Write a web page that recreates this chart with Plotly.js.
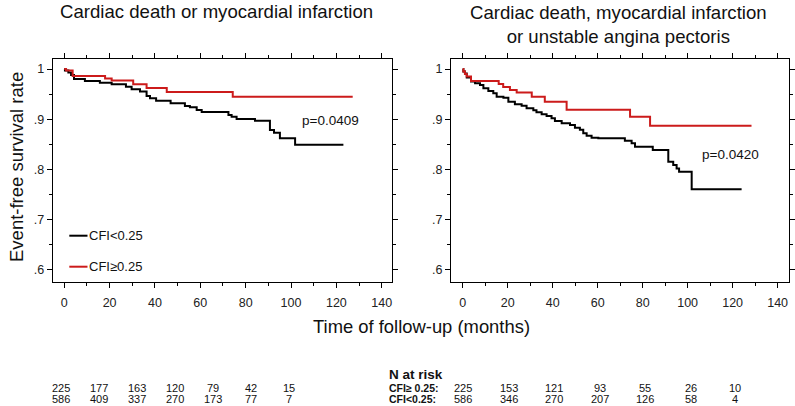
<!DOCTYPE html>
<html>
<head>
<meta charset="utf-8">
<script src="https://cdn.plot.ly/plotly-3.0.1.min.js"></script>
<style>
  html, body { margin: 0; padding: 0; background: #fff; }
  #chart { width: 795px; height: 406px; }
</style>
</head>
<body>
<div id="chart"></div>
<script>
// ---------------- data ----------------
const leftTitle = "Cardiac death or myocardial infarction";
const rightTitle = "Cardiac death, myocardial infarction<br>or unstable angina pectoris";
const groupLow = "CFI<0.25";
const groupHigh = "CFI\u22650.25";

// Left panel: cardiac death or MI
const leftLowT = [0, 0.3, 1.8, 3.0, 4.3, 9.1, 15.7, 20.9, 27.2, 29.7, 33.4, 36.3, 37.8, 40.5, 46.9, 53.2, 55.4, 58.4, 60.6, 72.4, 73.8, 76.0, 84.1, 90.7, 92.5, 95.1, 101.8, 123.1];
const leftLowS = [1.0, 0.997, 0.993, 0.988, 0.980, 0.976, 0.9728, 0.9695, 0.9648, 0.9595, 0.955, 0.9463, 0.9416, 0.937, 0.9317, 0.9264, 0.9237, 0.9184, 0.9144, 0.9085, 0.905, 0.9005, 0.897, 0.8786, 0.873, 0.862, 0.849, 0.849];
const leftHighT = [0, 0.8, 3.7, 18.0, 20.9, 30.4, 36.3, 45.2, 74.3, 127.2];
const leftHighS = [1.0, 0.997, 0.986, 0.981, 0.977, 0.9695, 0.962, 0.954, 0.945, 0.945];

// Right panel: cardiac death, MI or unstable angina
const rightLowT = [0, 0.3, 1.0, 1.8, 3.7, 5.5, 7.7, 9.2, 11.4, 13.6, 15.1, 18.1, 20.3, 23.2, 26.2, 28.4, 31.4, 32.8, 35.1, 37.3, 39.5, 41.0, 44.0, 47.7, 49.9, 52.1, 53.6, 55.1, 57.3, 60.3, 72.1, 75.1, 76.6, 84.5, 91.4, 93.6, 95.1, 96.2, 101.8, 124.0];
const rightLowS = [1.0, 0.995, 0.991, 0.983, 0.975, 0.9715, 0.968, 0.9615, 0.956, 0.9516, 0.945, 0.943, 0.935, 0.930, 0.927, 0.922, 0.918, 0.914, 0.910, 0.9065, 0.902, 0.8965, 0.892, 0.8886, 0.883, 0.879, 0.872, 0.867, 0.8633, 0.862, 0.857, 0.852, 0.8454, 0.839, 0.8155, 0.809, 0.802, 0.7956, 0.7606, 0.7606];
const rightHighT = [0, 0.3, 1.0, 1.8, 3.7, 16.0, 18.0, 21.0, 24.0, 30.7, 36.5, 46.2, 74.4, 83.3, 128.4];
const rightHighS = [1.0, 0.995, 0.990, 0.985, 0.976, 0.970, 0.964, 0.958, 0.953, 0.945, 0.935, 0.919, 0.905, 0.887, 0.887];

const pLeft = "p=0.0409";
const pRight = "p=0.0420";

// Number at risk
const riskHeader = "N at risk";
const riskLabelHigh = "CFI\u2265 0.25:";
const riskLabelLow = "CFI<0.25:";
const riskHighLeft = [225, 177, 163, 120, 79, 42, 15];
const riskLowLeft = [586, 409, 337, 270, 173, 77, 7];
const riskHighRight = [225, 153, 121, 93, 55, 26, 10];
const riskLowRight = [586, 346, 270, 207, 126, 58, 4];

const yTickVals = [0.6, 0.7, 0.8, 0.9, 1.0];
const yTickText = [".6", ".7", ".8", ".9", "1"];
const xTickVals = [0, 20, 40, 60, 80, 100, 120, 140];

// ---------------- layout helpers ----------------
const W = 795, H = 406;
const px = x => x / W;
const py = y => 1 - y / H;
const FONT = "Liberation Sans, Arial, Helvetica, sans-serif";
const BLACK = "#000000";
const RED = "#cc1b1b";

const traces = [
  {x: leftLowT, y: leftLowS, xaxis: "x", yaxis: "y", mode: "lines", line: {shape: "hv", color: BLACK, width: 2}, hoverinfo: "skip"},
  {x: leftHighT, y: leftHighS, xaxis: "x", yaxis: "y", mode: "lines", line: {shape: "hv", color: RED, width: 2}, hoverinfo: "skip"},
  {x: rightLowT, y: rightLowS, xaxis: "x2", yaxis: "y2", mode: "lines", line: {shape: "hv", color: BLACK, width: 2}, hoverinfo: "skip"},
  {x: rightHighT, y: rightHighS, xaxis: "x2", yaxis: "y2", mode: "lines", line: {shape: "hv", color: RED, width: 2}, hoverinfo: "skip"}
];

const xCommon = {
  tickvals: xTickVals, ticks: "outside", ticklen: 5, tickwidth: 1, tickcolor: BLACK,
  showline: true, linecolor: BLACK, linewidth: 1, mirror: "ticks",
  showgrid: false, zeroline: false, ticklabelstandoff: 4,
  tickfont: {family: FONT, size: 12.5, color: "#222"},
  minor: {tick0: 0, dtick: 10, ticks: "outside", ticklen: 3, tickcolor: BLACK, showgrid: false},
  fixedrange: true
};
const yCommon = {
  tickvals: yTickVals, ticktext: yTickText, ticks: "outside", ticklen: 5, tickwidth: 1, tickcolor: BLACK,
  showline: true, linecolor: BLACK, linewidth: 1, mirror: "ticks",
  showgrid: false, zeroline: false, range: [0.5761, 1.0193],
  domain: [py(282), py(59.3)],
  tickfont: {family: FONT, size: 12.5, color: "#222"},
  minor: {tick0: 0.6, dtick: 0.05, ticks: "outside", ticklen: 3, tickcolor: BLACK, showgrid: false},
  fixedrange: true
};

const annotations = [];
const ann = (text, x, y, opts) => annotations.push(Object.assign({
  text: text, xref: "paper", yref: "paper", x: px(x), y: py(y),
  xanchor: "center", yanchor: "middle", showarrow: false, borderpad: 0,
  font: {family: FONT, size: 12, color: "#111"}
}, opts || {}));

// Titles
ann(leftTitle, 216, 12, {font: {family: FONT, size: 18.6, color: "#111"}});
ann(rightTitle, 618, 25, {font: {family: FONT, size: 18.6, color: "#111"}});
// Axis titles
ann("Event-free survival rate", 16, 167, {textangle: -90, font: {family: FONT, size: 18.5, color: "#111"}});
ann("Time of follow-up (months)", 421.5, 326, {font: {family: FONT, size: 18.4, color: "#111"}});

// p values, in data coordinates
annotations.push({text: pLeft, xref: "x", yref: "y", x: 117.2, y: 0.8985, showarrow: false,
  xanchor: "center", yanchor: "middle", font: {family: FONT, size: 13.5, color: "#111"}});
annotations.push({text: pRight, xref: "x2", yref: "y2", x: 119.1, y: 0.829, showarrow: false,
  xanchor: "center", yanchor: "middle", font: {family: FONT, size: 13.5, color: "#111"}});

// Legend
ann(groupLow, 88.3, 235.5, {xanchor: "left", font: {family: FONT, size: 13, color: "#111"}});
ann(groupHigh, 88.3, 266.5, {xanchor: "left", font: {family: FONT, size: 13, color: "#111"}});
const shapes = [
  {type: "line", xref: "paper", yref: "paper", x0: px(69.3), x1: px(87.5), y0: py(235.7), y1: py(235.7), line: {color: BLACK, width: 2}},
  {type: "line", xref: "paper", yref: "paper", x0: px(69.3), x1: px(87.5), y0: py(266.7), y1: py(266.7), line: {color: RED, width: 2}}
];

// Number at risk table
const riskLeftX = [61, 99, 137, 175, 213, 251, 289];
const riskRightX = [463, 508.5, 554, 600, 645, 690.5, 735];
const rowHighY = 387.5, rowLowY = 398.8;
const tblFont = {family: FONT, size: 11, color: "#111"};
ann("<b>" + riskHeader + "</b>", 388, 374, {xanchor: "left", font: {family: FONT, size: 13.5, color: "#111"}});
ann("<b>" + riskLabelHigh + "</b>", 388, rowHighY, {xanchor: "left", font: {family: FONT, size: 10.5, color: "#111"}});
ann("<b>" + riskLabelLow + "</b>", 388, rowLowY, {xanchor: "left", font: {family: FONT, size: 10.5, color: "#111"}});
riskHighLeft.forEach((v, i) => ann(String(v), riskLeftX[i], rowHighY, {font: tblFont}));
riskLowLeft.forEach((v, i) => ann(String(v), riskLeftX[i], rowLowY, {font: tblFont}));
riskHighRight.forEach((v, i) => ann(String(v), riskRightX[i], rowHighY, {font: tblFont}));
riskLowRight.forEach((v, i) => ann(String(v), riskRightX[i], rowLowY, {font: tblFont}));

const layout = {
  width: W, height: H,
  margin: {l: 0, r: 0, t: 0, b: 0, pad: 0},
  paper_bgcolor: "#fff", plot_bgcolor: "#fff",
  showlegend: false,
  font: {family: FONT, color: "#111"},
  xaxis: Object.assign({}, xCommon, {domain: [px(52.7), px(391.7)], range: [-5.1, 144.4], anchor: "y"}),
  yaxis: Object.assign({}, yCommon, {anchor: "x"}),
  xaxis2: Object.assign({}, xCommon, {domain: [px(451), px(789.3)], range: [-5.2, 145.2], anchor: "y2"}),
  yaxis2: Object.assign({}, yCommon, {anchor: "x2"}),
  annotations: annotations,
  shapes: shapes
};

Plotly.newPlot("chart", traces, layout, {staticPlot: true, displayModeBar: false});
</script>
</body>
</html>
